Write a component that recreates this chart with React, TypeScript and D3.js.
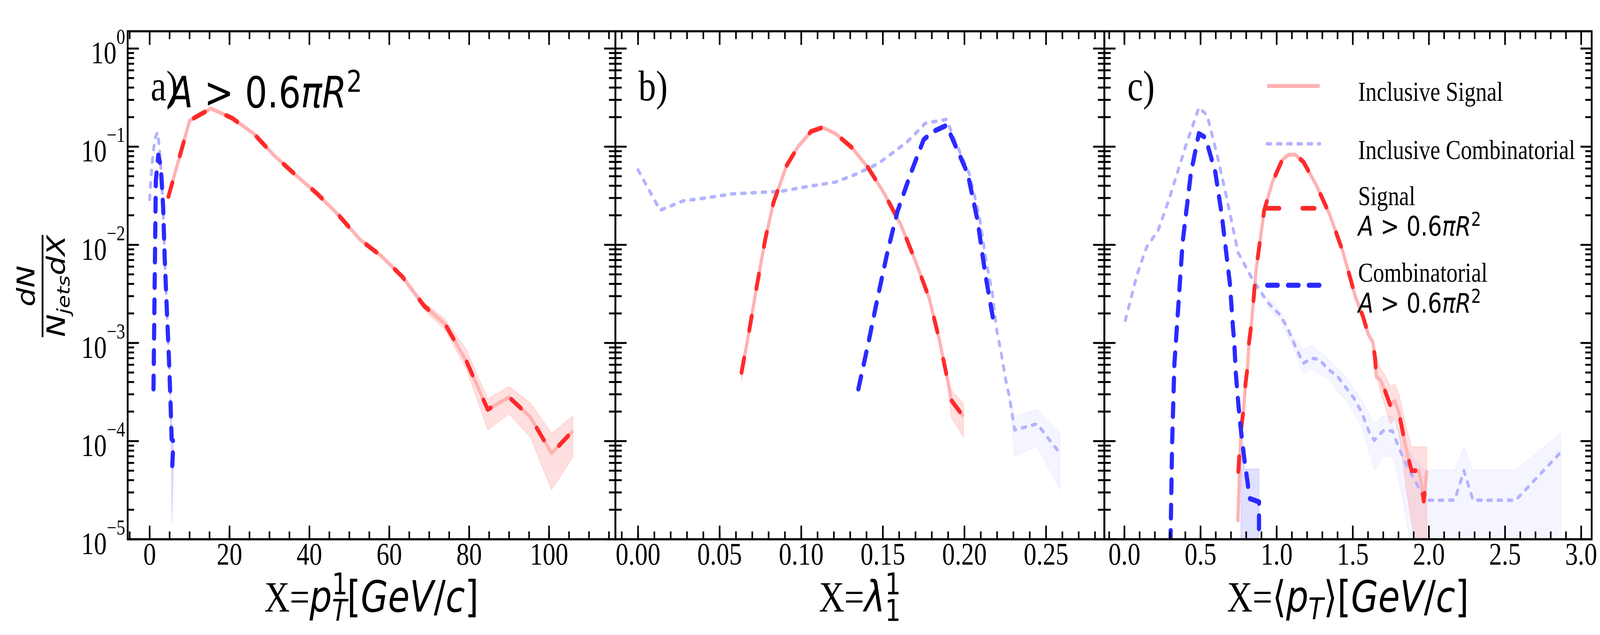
import React, { useEffect, useRef } from 'react';
import * as d3 from 'd3';

// ---- panel a) X = leading constituent pT ----
const sigAX = [4.7, 10.03, 15.36, 20.69, 26.02, 31.35, 36.68, 42.01, 47.34, 52.67, 58.0, 63.33, 68.66, 73.99, 79.32, 84.65, 89.98, 95.31, 100.64, 105.97];
const sigAY = [0.031, 0.185, 0.245, 0.195, 0.136, 0.08, 0.051, 0.033, 0.02, 0.0113, 0.0077, 0.0047, 0.0024, 0.00155, 0.00065, 0.00021, 0.00028, 0.000176, 0.000075, 0.000127];
const sigAHi = [0.032, 0.19, 0.25, 0.2, 0.14, 0.082, 0.0525, 0.034, 0.0206, 0.0117, 0.008, 0.0049, 0.0026, 0.00175, 0.00085, 0.00027, 0.00036, 0.000245, 0.00012, 0.00018];
const sigALo = [0.03, 0.18, 0.24, 0.19, 0.132, 0.078, 0.0495, 0.032, 0.0194, 0.0109, 0.0074, 0.0045, 0.0022, 0.00135, 0.00054, 0.00013, 0.00019, 0.00011, 0.000032, 0.000069];

const combAX = [0.96, 1.55, 2.16, 2.8, 3.37, 3.77, 4.3, 4.8, 5.2, 5.5, 5.95, 5.65];
const combAY = [3.4e-4, 0.045, 0.082, 0.063, 0.0245, 0.0073, 0.0022, 7.4e-4, 2.7e-4, 1.05e-4, 1.0e-4, 5.4e-5];
const combABandX = [5.2, 5.5, 5.6, 5.95];
const combABandLo = [2.0e-4, 4e-5, 1.5e-5, 6e-5];
const combABandHi = [3.4e-4, 1.5e-4, 1.3e-4, 1.3e-4];

const incCombAX = [0, 0.3, 0.53, 0.8, 1.07, 1.47, 2.0, 2.54, 2.8, 3.37, 3.77, 4.3, 4.8, 5.2, 5.5, 5.95];
const incCombAY = [0.029, 0.046, 0.06, 0.08, 0.1, 0.127, 0.14, 0.088, 0.063, 0.0245, 0.0073, 0.0022, 7.4e-4, 2.7e-4, 1.05e-4, 1.0e-4];

// ---- panel b) X = lambda_1^1 ----
const sigBX = [0.0634, 0.068, 0.073, 0.078, 0.083, 0.091, 0.098, 0.106, 0.113, 0.121, 0.131, 0.141, 0.151, 0.161, 0.169, 0.1783, 0.1846, 0.1899, 0.192, 0.1994];
const sigBY = [5.0e-4, 1.3e-3, 4.0e-3, 0.0115, 0.027, 0.064, 0.1, 0.143, 0.157, 0.136, 0.098, 0.061, 0.033, 0.016, 0.0075, 2.9e-3, 1.08e-3, 4.0e-4, 2.6e-4, 1.78e-4];
const sigBHi = [5.6e-4, 1.35e-3, 4.1e-3, 0.0118, 0.0277, 0.0655, 0.102, 0.146, 0.16, 0.139, 0.1, 0.0625, 0.0338, 0.0164, 0.0077, 3.0e-3, 1.15e-3, 4.6e-4, 3.3e-4, 2.4e-4];
const sigBLo = [4.0e-4, 1.25e-3, 3.9e-3, 0.0112, 0.0263, 0.0625, 0.098, 0.14, 0.154, 0.133, 0.096, 0.0595, 0.0322, 0.0156, 0.0073, 2.8e-3, 1.0e-3, 3.5e-4, 1.74e-4, 1.1e-4];

const combBX = [0.135, 0.141, 0.147, 0.153, 0.159, 0.167, 0.175, 0.181, 0.189, 0.195, 0.202, 0.208, 0.2127, 0.2176];
const combBY = [3.4e-4, 9.8e-4, 3.0e-3, 8.7e-3, 0.022, 0.053, 0.118, 0.143, 0.165, 0.098, 0.053, 0.0178, 5.1e-3, 1.74e-3];

const incCombBX = [0, 0.0135, 0.0275, 0.0414, 0.0574, 0.0713, 0.087, 0.101, 0.121, 0.133, 0.147, 0.157, 0.165, 0.176, 0.189, 0.195, 0.203, 0.209, 0.2135, 0.2169, 0.2197, 0.2225, 0.2253, 0.2274, 0.2308, 0.2445, 0.2585];
const incCombBY = [0.058, 0.0225, 0.028, 0.03, 0.033, 0.034, 0.035, 0.0385, 0.0436, 0.052, 0.067, 0.089, 0.112, 0.173, 0.19, 0.107, 0.053, 0.02, 6.5e-3, 3.4e-3, 1.37e-3, 7.9e-4, 4.2e-4, 2.9e-4, 1.3e-4, 1.5e-4, 7.5e-5];
const incCombBBandX = [0.2274, 0.2308, 0.2445, 0.2585];
const incCombBBandLo = [2.7e-4, 7e-5, 8.9e-5, 3.2e-5];
const incCombBBandHi = [3.1e-4, 1.8e-4, 2.1e-4, 1.2e-4];

// ---- panel c) X = <pT> ----
const sigCX = [0.748, 0.765, 0.783, 0.795, 0.809, 0.818, 0.835, 0.865, 0.918, 0.972, 1.036, 1.079, 1.122, 1.176, 1.262, 1.348, 1.433, 1.519, 1.568, 1.602, 1.632, 1.646, 1.655, 1.681, 1.707, 1.747, 1.776, 1.803, 1.855, 1.886, 1.934, 1.951, 1.966, 1.986];
const sigCY = [4.9e-5, 1.29e-4, 2.1e-4, 3.8e-4, 5.7e-4, 1.0e-3, 1.6e-3, 5.6e-3, 0.0224, 0.0436, 0.073, 0.083, 0.083, 0.07, 0.04, 0.0204, 8.7e-3, 2.9e-3, 1.84e-3, 1.22e-3, 1.02e-3, 7.0e-4, 4.5e-4, 4.2e-4, 3.4e-4, 2.3e-4, 2.57e-4, 1.95e-4, 7.7e-5, 5.0e-5, 5.0e-5, 3.6e-5, 2.45e-5, 5.0e-5];
const sigCBandX = [1.646, 1.681, 1.707, 1.747, 1.776, 1.803, 1.855, 1.886, 1.934, 1.951, 1.966, 1.986];
const sigCBandLo = [5.5e-4, 3.2e-4, 2.4e-4, 1.5e-4, 1.7e-4, 1.2e-4, 3e-5, 1.5e-5, 5e-6, 5e-6, 5e-6, 5e-6];
const sigCBandHi = [8.5e-4, 5.5e-4, 4.8e-4, 3.6e-4, 3.8e-4, 3.0e-4, 1.3e-4, 8.7e-5, 8.7e-5, 8.7e-5, 8.7e-5, 8.7e-5];
const incSigCLeadX = [0.745];
const incSigCLeadY = [1.5e-5];

const combCX = [0.3, 0.313, 0.328, 0.382, 0.436, 0.489, 0.532, 0.597, 0.639, 0.693, 0.713, 0.722, 0.731, 0.748, 0.765, 0.788, 0.805, 0.823, 0.853, 0.884, 0.884];
const combCY = [5e-6, 9e-5, 6.0e-4, 0.0105, 0.053, 0.136, 0.124, 0.055, 0.0204, 4.0e-3, 1.44e-3, 9.9e-4, 5.1e-4, 2.4e-4, 1.3e-4, 6.5e-5, 4.2e-5, 2.6e-5, 2.5e-5, 2.4e-5, 5e-6];
const combCBandX = [0.765, 0.788, 0.805, 0.823, 0.853, 0.884];
const combCBandLo = [5e-6, 5e-6, 5e-6, 5e-6, 5e-6, 5e-6];
const combCBandHi = [2e-4, 5.2e-5, 5.2e-5, 5.2e-5, 5.2e-5, 5.2e-5];

const incCombCX = [0.006, 0.082, 0.146, 0.221, 0.296, 0.403, 0.489, 0.543, 0.607, 0.661, 0.747, 0.833, 0.94, 1.018, 1.07, 1.123, 1.175, 1.228, 1.28, 1.333, 1.403, 1.455, 1.507, 1.559, 1.611, 1.642, 1.698, 1.76, 1.803, 1.855, 1.907, 1.977, 2.169, 2.23, 2.29, 2.57, 2.866];
const incCombCY = [1.7e-3, 4.9e-3, 9.5e-3, 0.014, 0.03, 0.102, 0.25, 0.21, 0.085, 0.036, 8.3e-3, 4.7e-3, 2.6e-3, 1.96e-3, 1.44e-3, 9.2e-4, 6.2e-4, 7.0e-4, 6.8e-4, 5.5e-4, 4.5e-4, 3.5e-4, 2.75e-4, 1.95e-4, 1.2e-4, 1.02e-4, 1.27e-4, 1.27e-4, 8.5e-5, 5.6e-5, 4.0e-5, 2.5e-5, 2.5e-5, 5.0e-5, 2.5e-5, 2.5e-5, 7.7e-5];
const incCombCBandX = [0.94, 1.018, 1.123, 1.175, 1.228, 1.333, 1.455, 1.559, 1.642, 1.698, 1.76, 1.803, 1.855, 1.907, 1.977, 2.169, 2.23, 2.29, 2.57, 2.866];
const incCombCBandLo = [2.3e-3, 1.75e-3, 8e-4, 4.8e-4, 5.5e-4, 4.3e-4, 2.6e-4, 1.4e-4, 5e-5, 7e-5, 7e-5, 4e-5, 1.5e-5, 5e-6, 5e-6, 5e-6, 5e-6, 5e-6, 5e-6, 5e-6];
const incCombCBandHi = [2.9e-3, 2.2e-3, 1.05e-3, 8.5e-4, 9.5e-4, 7e-4, 4.5e-4, 2.6e-4, 1.5e-4, 1.8e-4, 1.8e-4, 1.25e-4, 9e-5, 6.5e-5, 5.1e-5, 5.1e-5, 8.7e-5, 5.1e-5, 5.1e-5, 1.2e-4];

// axis ticks / labels
const xMajorA = [0, 20, 40, 60, 80, 100];
const xMajorB = [0, 0.05, 0.1, 0.15, 0.2, 0.25];
const xMajorC = [0, 0.5, 1.0, 1.5, 2.0, 2.5, 3.0];
const yDecades = [-5, -4, -3, -2, -1, 0];
const panelTags = ['a)', 'b)', 'c)'];
const legendLabels = ['Inclusive Signal', 'Inclusive Combinatorial', 'Signal', 'Combinatorial'];

const W = 5000;
const H = 1625;
const TOP = 80;
const BOTTOM = 1380;
const SERIF = '"Liberation Serif", "Times New Roman", serif';
const SANS = '"DejaVu Sans", sans-serif';
const RED = '#ff2a2a';
const BLUE = '#2a2aff';
const PINK = '#ffb3b3';
const LBLUE = '#b3b3ff';

type Pt = [number, number];
const zip = (xs: number[], ys: number[]): Pt[] => xs.map((x, i) => [x, ys[i]] as Pt);
const zipBand = (xs: number[], lo: number[], hi: number[]) => xs.map((x, i) => ({ x, lo: lo[i], hi: hi[i] }));

const App: React.FC = () => {
  const ref = useRef<SVGSVGElement | null>(null);

  useEffect(() => {
    const svg = d3.select(ref.current);
    svg.selectAll('*').remove();

    const y = d3.scaleLog().domain([1e-5, 1.5]).range([BOTTOM, TOP]);

    const panels = [
      { left: 399, right: 1923, domain: [-5.5, 116.6], majors: xMajorA, minors: d3.range(-5, 116, 5), fmt: (d: number) => String(d) },
      { left: 1923, right: 3451, domain: [-0.0139, 0.2857], majors: xMajorB, minors: d3.range(-0.01, 0.285, 0.01), fmt: d3.format('.2f') },
      { left: 3451, right: 4974, domain: [-0.132, 3.069], majors: xMajorC, minors: d3.range(-0.1, 3.05, 0.1), fmt: d3.format('.1f') },
    ];

    const defs = svg.append('defs');

    // series per panel
    const data = [
      {
        incSig: zip(sigAX, sigAY), sig: zip(sigAX, sigAY), comb: zip(combAX, combAY), incComb: zip(incCombAX, incCombAY),
        sigBand: zipBand(sigAX, sigALo, sigAHi), combBand: zipBand(combABandX, combABandLo, combABandHi), incCombBand: null as any,
      },
      {
        incSig: zip(sigBX, sigBY), sig: zip(sigBX, sigBY), comb: zip(combBX, combBY), incComb: zip(incCombBX, incCombBY),
        sigBand: zipBand(sigBX, sigBLo, sigBHi), combBand: null as any, incCombBand: zipBand(incCombBBandX, incCombBBandLo, incCombBBandHi),
      },
      {
        incSig: zip(incSigCLeadX, incSigCLeadY).concat(zip(sigCX, sigCY).slice(1)), sig: zip(sigCX, sigCY),
        comb: zip(combCX, combCY), incComb: zip(incCombCX, incCombCY),
        sigBand: zipBand(sigCBandX, sigCBandLo, sigCBandHi), combBand: zipBand(combCBandX, combCBandLo, combCBandHi),
        incCombBand: zipBand(incCombCBandX, incCombCBandLo, incCombCBandHi),
      },
    ];

    panels.forEach((p, pi) => {
      const x = d3.scaleLinear().domain(p.domain).range([p.left, p.right]);
      const clipId = `clip${pi}`;
      defs.append('clipPath').attr('id', clipId).append('rect')
        .attr('x', p.left).attr('y', TOP).attr('width', p.right - p.left).attr('height', BOTTOM - TOP);

      const plot = svg.append('g').attr('clip-path', `url(#${clipId})`);
      const line = d3.line<Pt>().x(d => x(d[0])).y(d => y(d[1]));
      const area = d3.area<{ x: number; lo: number; hi: number }>()
        .x(d => x(d.x)).y0(d => y(d.lo)).y1(d => y(d.hi));

      const ds = data[pi];
      const band = (b: any, color: string, op: number) => {
        if (!b) return;
        plot.append('path').attr('d', area(b)!).attr('fill', color).attr('fill-opacity', op)
          .attr('stroke', color).attr('stroke-opacity', op * 0.8).attr('stroke-width', 3);
      };
      band(ds.incCombBand, '#0000ff', 0.04);
      band(ds.combBand, '#0000ff', 0.12);
      band(ds.sigBand, '#ff0000', 0.12);

      plot.append('path').attr('d', line(ds.incSig)!).attr('fill', 'none')
        .attr('stroke', PINK).attr('stroke-width', 10).attr('stroke-linejoin', 'round');
      plot.append('path').attr('d', line(ds.incComb)!).attr('fill', 'none')
        .attr('stroke', LBLUE).attr('stroke-width', 9).attr('stroke-dasharray', '11 21')
        .attr('stroke-linecap', 'round').attr('stroke-linejoin', 'round');
      plot.append('path').attr('d', line(ds.sig)!).attr('fill', 'none')
        .attr('stroke', RED).attr('stroke-width', 12).attr('stroke-dasharray', '38 72')
        .attr('stroke-linecap', 'round').attr('stroke-linejoin', 'round');
      plot.append('path').attr('d', line(ds.comb)!).attr('fill', 'none')
        .attr('stroke', BLUE).attr('stroke-width', 13).attr('stroke-dasharray', '33 32')
        .attr('stroke-linecap', 'round').attr('stroke-linejoin', 'round');

      // frame
      const axes = svg.append('g').attr('stroke', '#000');
      axes.append('rect').attr('x', p.left).attr('y', TOP).attr('width', p.right - p.left)
        .attr('height', BOTTOM - TOP).attr('fill', 'none').attr('stroke-width', 5.5);

      // x ticks, top and bottom, inward
      const xt = (v: number, len: number) => {
        const px = x(v);
        if (px < p.left + 2 || px > p.right - 2) return;
        axes.append('line').attr('x1', px).attr('x2', px).attr('y1', BOTTOM).attr('y2', BOTTOM - len).attr('stroke-width', 5);
        axes.append('line').attr('x1', px).attr('x2', px).attr('y1', TOP).attr('y2', TOP + len).attr('stroke-width', 5);
      };
      p.minors.forEach(v => xt(v, 20));
      p.majors.forEach(v => xt(v, 35));

      // y ticks, left and right, inward
      const yt = (v: number, len: number) => {
        const py = y(v);
        if (py < TOP + 2 || py > BOTTOM + 1) return;
        axes.append('line').attr('x1', p.left).attr('x2', p.left + len).attr('y1', py).attr('y2', py).attr('stroke-width', 5);
        axes.append('line').attr('x1', p.right).attr('x2', p.right - len).attr('y1', py).attr('y2', py).attr('stroke-width', 5);
      };
      yDecades.forEach(k => {
        d3.range(2, 10).forEach(m => yt(m * Math.pow(10, k), 20));
        yt(Math.pow(10, k), 35);
      });

      // x tick labels
      p.majors.forEach(v => {
        svg.append('text').attr('x', x(v)).attr('y', 1445).attr('text-anchor', 'middle')
          .attr('font-family', SERIF).attr('font-size', 80).text(p.fmt(v));
      });

      // panel tag
      svg.append('text').attr('x', p.left + 72).attr('y', 257)
        .attr('font-family', SERIF).attr('font-size', 110).text(panelTags[pi]);

      // x axis labels
      const cx = (p.left + p.right) / 2;
      const lab = svg.append('text').attr('x', cx).attr('y', 1565).attr('text-anchor', 'middle')
        .attr('font-size', 110).style('white-space', 'pre');
      lab.append('tspan').attr('font-family', SERIF).text('X=');
      if (pi === 0) {
        lab.append('tspan').attr('font-family', SANS).attr('font-style', 'italic').text('p');
        lab.append('tspan').attr('font-family', SANS).attr('font-size', 77).attr('dy', -44).text('1');
        lab.append('tspan').attr('font-family', SANS).attr('font-style', 'italic').attr('font-size', 77).attr('dx', -49).attr('dy', 68).text('T');
        lab.append('tspan').attr('font-family', SANS).attr('dy', -24).text('[');
        lab.append('tspan').attr('font-family', SANS).attr('font-style', 'italic').text('GeV');
        lab.append('tspan').attr('font-family', SANS).text('/');
        lab.append('tspan').attr('font-family', SANS).attr('font-style', 'italic').text('c');
        lab.append('tspan').attr('font-family', SANS).text(']');
      } else if (pi === 1) {
        lab.append('tspan').attr('font-family', SANS).attr('font-style', 'italic').text('λ');
        lab.append('tspan').attr('font-family', SANS).attr('font-size', 77).attr('dy', -44).text('1');
        lab.append('tspan').attr('font-family', SANS).attr('font-size', 77).attr('dx', -49).attr('dy', 68).text('1');
      } else {
        lab.append('tspan').attr('font-family', SANS).text('⟨');
        lab.append('tspan').attr('font-family', SANS).attr('font-style', 'italic').text('p');
        lab.append('tspan').attr('font-family', SANS).attr('font-style', 'italic').attr('font-size', 77).attr('dy', 20).text('T');
        lab.append('tspan').attr('font-family', SANS).attr('dy', -20).text('⟩[');
        lab.append('tspan').attr('font-family', SANS).attr('font-style', 'italic').text('GeV');
        lab.append('tspan').attr('font-family', SANS).text('/');
        lab.append('tspan').attr('font-family', SANS).attr('font-style', 'italic').text('c');
        lab.append('tspan').attr('font-family', SANS).text(']');
      }
    });

    // y tick labels (left panel only)
    yDecades.forEach(k => {
      const py = y(Math.pow(10, k));
      const t = svg.append('text').attr('x', 391).attr('y', py + 38).attr('text-anchor', 'end')
        .attr('font-family', SERIF).attr('font-size', 80);
      t.append('tspan').text('10');
      t.append('tspan').attr('font-size', 54).attr('dy', -50).text(k === 0 ? '0' : `\u2212${-k}`);
    });

    // A > 0.6 pi R^2 in math style
    const mathCut = (sel: d3.Selection<SVGTextElement, unknown, null, undefined>, size: number) => {
      sel.attr('font-family', SANS).attr('font-size', size).style('white-space', 'pre');
      sel.append('tspan').attr('font-style', 'italic').text('A');
      sel.append('tspan').text(' > 0.6');
      sel.append('tspan').attr('font-style', 'italic').text('πR');
      sel.append('tspan').attr('font-size', size * 0.7).attr('dy', -size * 0.36).text('2');
    };
    mathCut(svg.append('text').attr('x', 528).attr('y', 275), 110);

    // y axis label: dN / (N_jets dX)
    const yl = svg.append('g').attr('transform', 'translate(133,732) rotate(-90)');
    const num = yl.append('text').attr('x', 0).attr('y', -25).attr('text-anchor', 'middle')
      .attr('font-family', SANS).attr('font-size', 76).attr('font-style', 'italic');
    num.append('tspan').text('dN');
    yl.append('line').attr('x1', -131).attr('x2', 131).attr('y1', 0).attr('y2', 0)
      .attr('stroke', '#000').attr('stroke-width', 5.5);
    const den = yl.append('text').attr('x', 0).attr('y', 70).attr('text-anchor', 'middle')
      .attr('font-family', SANS).attr('font-size', 78).attr('font-style', 'italic');
    den.append('tspan').text('N');
    den.append('tspan').attr('font-size', 55).attr('dy', 14).text('jets');
    den.append('tspan').attr('dy', -14).text('dX');

    // legend (panel c)
    const lg = svg.append('g');
    const hx0 = 3960;
    const hx1 = 4124;
    const tx = 4244;
    const handles = [
      { yy: 220, stroke: PINK, w: 10, dash: null as string | null },
      { yy: 368, stroke: LBLUE, w: 9, dash: '11 21' },
      { yy: 533, stroke: RED, w: 12, dash: '38 72' },
      { yy: 730, stroke: BLUE, w: 13, dash: '33 32' },
    ];
    handles.forEach(h => {
      const l = lg.append('line').attr('x1', hx0).attr('x2', hx1).attr('y1', h.yy).attr('y2', h.yy)
        .attr('stroke', h.stroke).attr('stroke-width', h.w);
      if (h.dash) l.attr('stroke-dasharray', h.dash).attr('stroke-linecap', 'round');
    });
    const ltxt = (s: string, yy: number) =>
      lg.append('text').attr('x', tx).attr('y', yy).attr('font-family', SERIF).attr('font-size', 70).text(s);
    ltxt(legendLabels[0], 258);
    ltxt(legendLabels[1], 407);
    ltxt(legendLabels[2], 525);
    mathCut(lg.append('text').attr('x', tx).attr('y', 603), 70);
    ltxt(legendLabels[3], 721);
    mathCut(lg.append('text').attr('x', tx).attr('y', 800), 70);
  }, []);

  // fill the whole viewport with the 5000x1625 drawing
  return (
    <svg
      ref={ref}
      viewBox={`0 0 ${W} ${H}`}
      preserveAspectRatio="none"
      style={{ position: 'absolute', left: 0, top: 0, width: '100vw', height: '100vh', background: '#fff', display: 'block' }}
    />
  );
};

export default App;
